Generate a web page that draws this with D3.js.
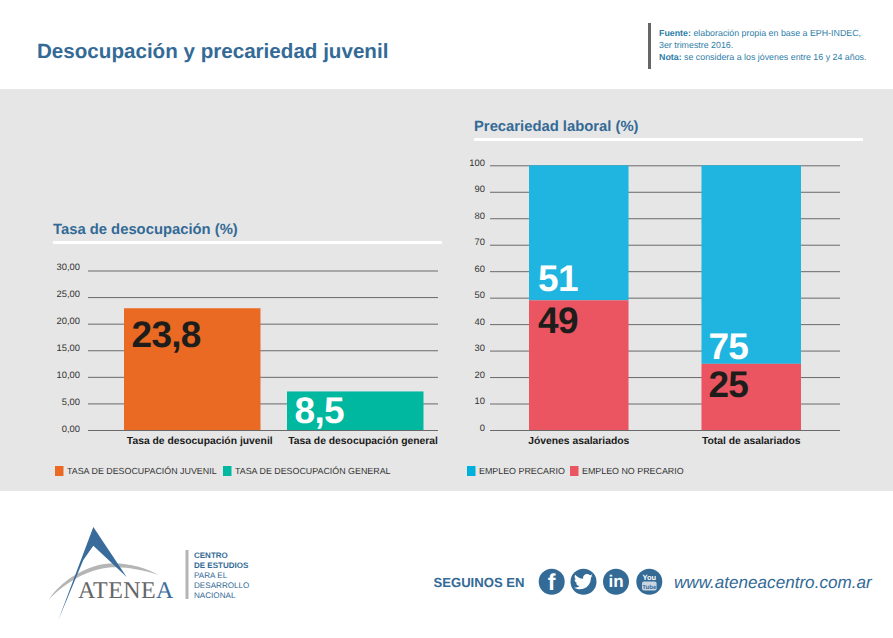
<!DOCTYPE html>
<html><head><meta charset="utf-8">
<script src="https://cdn.jsdelivr.net/npm/d3@7"></script>
<style>html,body{margin:0;padding:0;background:#fff}svg{display:block;font-family:"Liberation Sans",Arial,sans-serif;text-rendering:geometricPrecision}</style>
</head><body><svg id="c" width="893" height="638"></svg>
<script>
const leftCategories = ["Tasa de desocupación juvenil","Tasa de desocupación general"];
const leftBarValues = [22.9,7.25];
const leftValueLabels = ["23,8","8,5"];
const leftColors = ["#ea6a24","#00b8a0"];
const leftTicks = [0,5,10,15,20,25,30];
const rightCategories = ["Jóvenes asalariados","Total de asalariados"];
const noPrecario = [49,25];
const precario = [51,75];
const rightTicks = [0,10,20,30,40,50,60,70,80,90,100];
const leftLegend = ["TASA DE DESOCUPACIÓN JUVENIL","TASA DE DESOCUPACIÓN GENERAL"];
const rightLegend = ["EMPLEO PRECARIO","EMPLEO NO PRECARIO"];
const BLUE="#336a96", GRID="#6a6a6a";
const svg=d3.select("#c");
svg.append("rect").attr("x",0).attr("y",89).attr("width",893).attr("height",402).attr("fill","#e6e6e6");
function txt(x,y,s,o={}){return svg.append("text").attr("x",x).attr("y",y).text(s)
 .attr("font-size",o.size||10).attr("font-weight",o.bold?"bold":null).attr("font-style",o.italic?"italic":null)
 .attr("fill",o.fill||"#222").attr("text-anchor",o.anchor||"start").attr("letter-spacing",o.ls||null).attr("font-family",o.family||null);}
// header
txt(37,58,"Desocupación y precariedad juvenil",{size:20.6,bold:true,fill:BLUE});
svg.append("rect").attr("x",648).attr("y",23).attr("width",3).attr("height",46).attr("fill","#666");
const NOTE="#2f7ea8", NS=8.86;
const n1=txt(659,36,"",{size:NS,fill:NOTE});n1.append("tspan").attr("font-weight","bold").text("Fuente:");n1.append("tspan").text(" elaboración propia en base a EPH-INDEC,");
txt(659,48,"3er trimestre 2016.",{size:NS,fill:NOTE});
const n2=txt(659,60,"",{size:NS,fill:NOTE});n2.append("tspan").attr("font-weight","bold").text("Nota:");n2.append("tspan").text(" se considera a los jóvenes entre 16 y 24 años.");
// section titles
txt(53,234,"Tasa de desocupación (%)",{size:14.8,bold:true,fill:BLUE});
svg.append("rect").attr("x",53).attr("y",241).attr("width",389).attr("height",3).attr("fill","#fff");
txt(474,131,"Precariedad laboral (%)",{size:14.8,bold:true,fill:BLUE});
svg.append("rect").attr("x",474).attr("y",138).attr("width",389).attr("height",3).attr("fill","#fff");

function axis(scale,labelScale,ticks,fmt,x0,x1,pad){
 const g=svg.append("g").attr("transform",`translate(${x0},0)`)
  .call(d3.axisLeft(scale).tickValues(ticks).tickFormat(fmt).tickSize(-(x1-x0)).tickPadding(pad));
 g.select(".domain").remove();
 g.selectAll(".tick line").attr("stroke",GRID).attr("stroke-width",1);
 g.selectAll(".tick text").attr("font-size",9.4).attr("font-family","'Liberation Sans'").attr("fill","#333")
  .attr("dy",0).attr("y",d=>labelScale(d)-scale(d));
 return g;
}
// left chart
const yL=d3.scaleLinear().domain([0,30]).range([430,270.5]);
const yLText=d3.scaleLinear().domain([0,30]).range([431.3,269.3]);
const xL=d3.scaleBand().domain(leftCategories).range([124,423.5]).paddingInner(.1626);
axis(yL,yLText,leftTicks,d=>d3.format(".2f")(d).replace(".",","),88,438,8);
svg.selectAll(".l").data(leftCategories).join("rect").attr("x",d=>xL(d)).attr("width",xL.bandwidth())
 .attr("y",(d,i)=>yL(leftBarValues[i])).attr("height",(d,i)=>yL(0)-yL(leftBarValues[i])).attr("fill",(d,i)=>leftColors[i]);
const BIG={size:37,bold:true,ls:-0.7};
leftCategories.forEach((c,i)=>{
 txt(xL(c)+7.5,yL(leftBarValues[i])+(i?32:39),leftValueLabels[i],{...BIG,fill:i?"#fff":"#1d1d1b"});
 txt(xL(c)+xL.bandwidth()/2+(i?7.8:7.5),444,c,{size:10.35,bold:true,anchor:"middle",fill:"#1a1a1a"});
});
// right chart
const yR=d3.scaleLinear().domain([0,100]).range([430,165.3]);
const yRText=d3.scaleLinear().domain([0,100]).range([430.2,165.5]);
const xR=d3.scaleBand().domain(rightCategories).range([529,801]).paddingInner(.423);
axis(yR,yRText,rightTicks,d=>d,490,840,5);
rightCategories.forEach((c,i)=>{
 svg.append("rect").attr("x",xR(c)).attr("width",xR.bandwidth()).attr("y",yR(100)).attr("height",yR(noPrecario[i])-yR(100)).attr("fill","#1fb5e0");
 svg.append("rect").attr("x",xR(c)).attr("width",xR.bandwidth()).attr("y",yR(noPrecario[i])).attr("height",yR(0)-yR(noPrecario[i])).attr("fill","#ea5561");
 txt(xR(c)+(i?7:9),yR(noPrecario[i])-(i?4.5:9.5),String(precario[i]),{...BIG,fill:"#fff"});
 txt(xR(c)+(i?7:9),yR(noPrecario[i])+33,String(noPrecario[i]),{...BIG,fill:"#1d1d1b"});
 txt(xR(c)+xR.bandwidth()/2,444,c,{size:10.35,bold:true,anchor:"middle",fill:"#1a1a1a"});
});
// legends
function legend(items,colors,sx,tx){items.forEach((t,i)=>{
 svg.append("rect").attr("x",sx[i]).attr("y",466).attr("width",8.5).attr("height",10).attr("fill",colors[i]);
 txt(tx[i],474,t,{size:8.9,fill:"#333"});
});}
legend(leftLegend,leftColors,[55,223],[67,235]);
legend(rightLegend,["#00b0dc","#ea5561"],[467,570],[479,582]);
// logo
const lg=svg.append("g").attr("transform","translate(30,515) scale(0.3333)");
lg.append("path").attr("d","M55 255 C100 190 180 145 250 145 C300 145 350 160 385 180 C340 165 290 155 245 157 C170 162 105 205 55 255Z").attr("fill","#b5b5b5");
lg.append("path").attr("d","M190 36 L85 315 L160 135 L190 92 L290 186Z").attr("fill","#3a6c9b");
txt(78,597.7,"",{size:24,family:"'Liberation Serif'",fill:"#666"}).call(t=>{t.append("tspan").text("ATENE");t.append("tspan").attr("fill","#3a6c9b").text("A");}).attr("letter-spacing",0.4);
svg.append("rect").attr("x",185.5).attr("y",550).attr("width",3).attr("height",49).attr("fill","#b5b5b5");
[["CENTRO",1],["DE ESTUDIOS",1],["PARA EL",0],["DESARROLLO",0],["NACIONAL",0]].forEach((d,i)=>
 txt(194,557.7+i*10,d[0],{size:d[1]?8:8.1,bold:!!d[1],fill:BLUE}));
// social
txt(433.5,586.5,"SEGUINOS EN",{size:13.1,bold:true,fill:BLUE});
const cy=581.7;
[551.7,583.5,616,649.3].forEach(cx=>svg.append("circle").attr("cx",cx).attr("cy",cy).attr("r",13).attr("fill",BLUE));
txt(551.7,590,"f",{size:23,bold:true,fill:"#fff",anchor:"middle"});
svg.append("path").attr("transform",`translate(${583.5-9.5},${cy-9.5}) scale(0.79)`).attr("fill","#fff")
 .attr("d","M24 4.56c-.89.39-1.84.65-2.83.77 1.02-.61 1.8-1.58 2.16-2.72-.95.56-2 .97-3.13 1.19C19.1 2.8 17.8 2.2 16.4 2.2c-2.72 0-4.92 2.2-4.92 4.92 0 .39.04.76.13 1.12C7.52 8.04 3.9 6.08 1.47 3.1 1.05 3.83.8 4.67.8 5.58c0 1.71.87 3.21 2.19 4.1-.81-.03-1.57-.25-2.23-.62v.06c0 2.38 1.7 4.37 3.95 4.83-.41.11-.85.17-1.3.17-.32 0-.62-.03-.93-.09.63 1.96 2.44 3.38 4.6 3.42-1.68 1.32-3.8 2.1-6.1 2.1-.4 0-.79-.02-1.17-.07 2.18 1.4 4.77 2.21 7.55 2.21 9.06 0 14.01-7.5 14.01-14.01 0-.21 0-.43-.02-.64.96-.69 1.8-1.56 2.45-2.54z");
txt(616,587,"in",{size:17,bold:true,fill:"#fff",anchor:"middle"});
txt(649.3,580,"You",{size:7.5,bold:true,fill:"#fff",anchor:"middle"});
svg.append("rect").attr("x",642).attr("y",581.5).attr("width",14.6).attr("height",9).attr("rx",2).attr("fill","#c9d6e2");
txt(649.3,589.3,"Tube",{size:6,bold:true,fill:BLUE,anchor:"middle"});
txt(674,588,"www.ateneacentro.com.ar",{size:17.1,italic:true,fill:BLUE});
</script></body></html>
